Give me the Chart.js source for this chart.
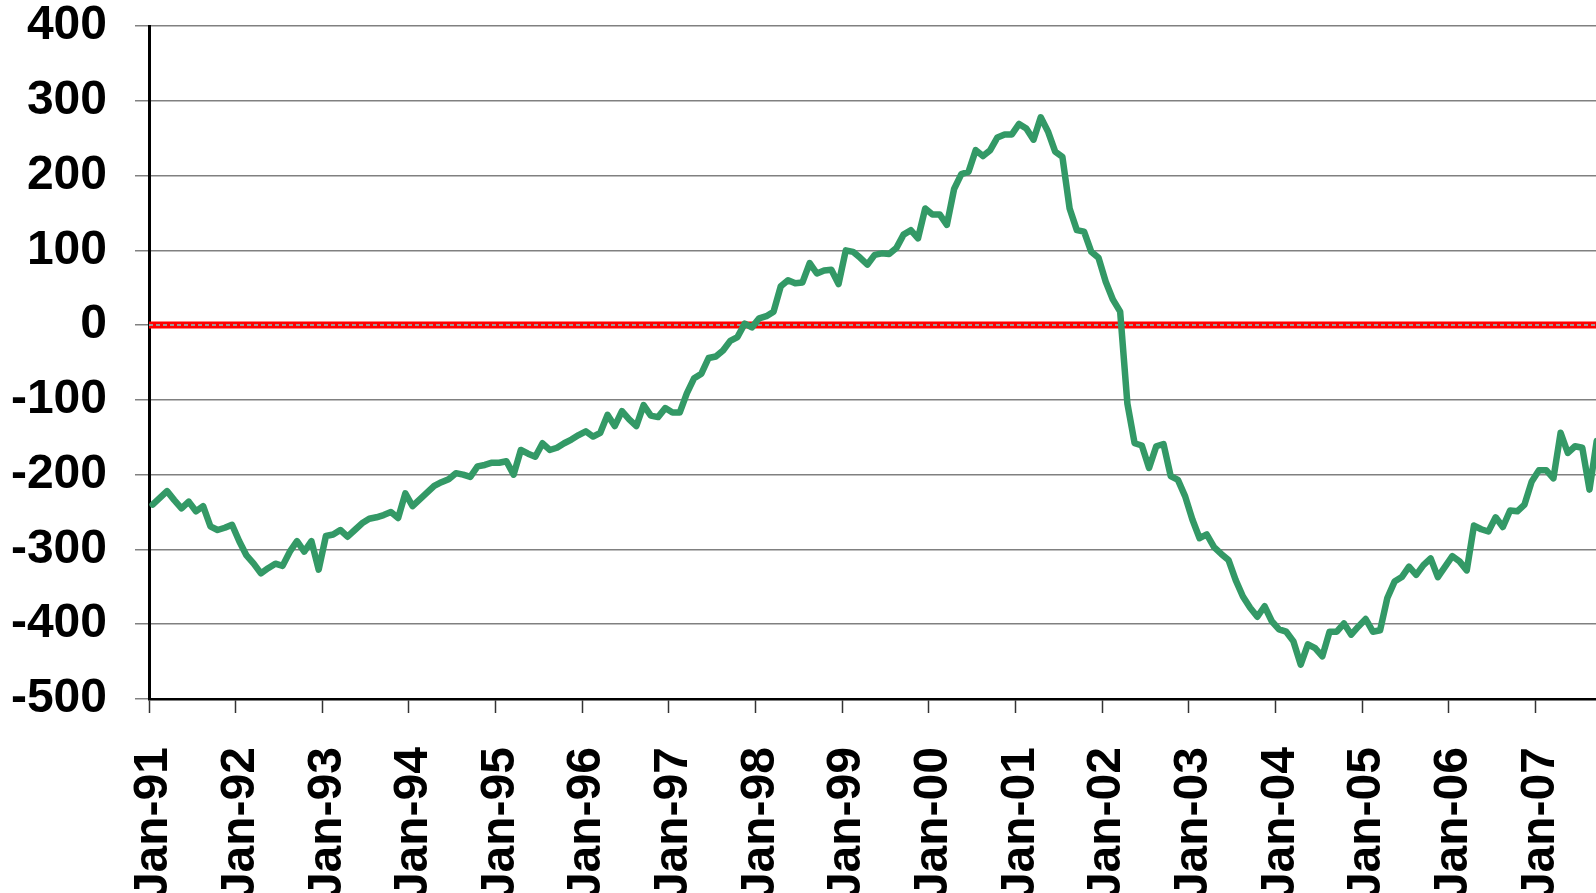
<!DOCTYPE html>
<html>
<head>
<meta charset="utf-8">
<script src="https://cdn.jsdelivr.net/npm/chart.js@4/dist/chart.umd.min.js"></script>
<style>
    html, body { margin: 0; padding: 0; background: #ffffff; overflow: hidden; }
    #chart { display: block; }
</style>
</head>
<body>
<canvas id="chart" width="1596" height="893"></canvas>
<script>
// monthly series, first value is Jan-91
const startYear = 1991;
const seriesValues = [
    -240, -231, -222, -234, -245, -236, -249, -242, -269, -274, -271, -267,
    -289, -308, -319, -332, -325, -319, -322, -303, -289, -303, -289, -327,
    -282, -280, -274, -283, -274, -265, -259, -257, -254, -250, -258, -225,
    -242, -233, -224, -215, -210, -206, -198, -200, -203, -189, -187, -184,
    -184, -182, -200, -167, -172, -176, -158, -167, -164, -158, -153, -147,
    -142, -149, -144, -120, -135, -115, -126, -135, -107, -121, -123, -111,
    -117, -117, -91, -71, -65, -44, -42, -34, -21, -16, 2, -3,
    9, 12, 18, 52, 60, 56, 57, 83, 69, 73, 74, 55,
    100, 98, 90, 81, 94, 96, 95, 103, 121, 127, 116, 156,
    148, 148, 134, 182, 202, 205, 234, 226, 234, 251, 255, 255,
    269, 263, 248, 278, 259, 232, 225, 156, 127, 125, 98, 90,
    58, 34, 18, -105, -158, -161, -191, -162, -159, -202, -207, -229,
    -260, -285, -280, -297, -306, -314, -341, -363, -378, -390, -376, -396,
    -407, -410, -423, -454, -427, -432, -443, -410, -410, -399, -414, -403,
    -393, -410, -408, -365, -343, -337, -323, -334, -321, -312, -337, -323,
    -309, -316, -328, -268, -273, -276, -257, -270, -248, -249, -240, -209,
    -194, -194, -205, -144, -171, -162, -164, -220, -155
];

const xTickLabels = [
    'Jan-91', 'Jan-92', 'Jan-93', 'Jan-94', 'Jan-95', 'Jan-96', 'Jan-97', 'Jan-98', 'Jan-99',
    'Jan-00', 'Jan-01', 'Jan-02', 'Jan-03', 'Jan-04', 'Jan-05', 'Jan-06', 'Jan-07'
];
const yTickValues = [-500, -400, -300, -200, -100, 0, 100, 200, 300, 400];
const zeroLineValue = 0;

// axis runs in months from Jan-91, the visible window ends a bit after Sep-07
const xMax = 200.4;
const midMonth = 0.5;

document.addEventListener('DOMContentLoaded', () => {
    const ctx = document.getElementById('chart').getContext('2d');

    const linePoints = seriesValues.map((v, i) => ({ x: i + midMonth, y: v }));
    const zeroPoints = [{ x: 0, y: zeroLineValue }, { x: xMax, y: zeroLineValue }];

    const labelFont = { family: "'Liberation Sans', Arial, sans-serif", size: 48, weight: 'bold', lineHeight: 1 };

    new Chart(ctx, {
        type: 'line',
        data: {
            datasets: [
                {
                    data: linePoints,
                    borderColor: '#339966',
                    borderWidth: 6.5,
                    borderCapStyle: 'round',
                    borderJoinStyle: 'round',
                    pointRadius: 0,
                    tension: 0,
                },
                {
                    // dotted centre of the zero line
                    data: zeroPoints,
                    borderColor: '#9a9a9a',
                    borderWidth: 2,
                    borderDash: [4, 3],
                    pointRadius: 0,
                },
                {
                    data: zeroPoints,
                    borderColor: '#ff0000',
                    borderWidth: 7,
                    pointRadius: 0,
                },
            ],
        },
        options: {
            responsive: false,
            animation: false,
            devicePixelRatio: 1,
            layout: { padding: { top: 26, right: 0, bottom: 0, left: 0 } },
            plugins: {
                legend: { display: false },
                tooltip: { enabled: false },
            },
            scales: {
                x: {
                    type: 'linear',
                    min: 0,
                    max: xMax,
                    afterFit: (s) => {
                        s.height = 194;
                        s.paddingLeft = 0;
                        s.paddingRight = 0;
                    },
                    border: { color: '#000000', width: 2.5 },
                    grid: {
                        drawOnChartArea: false,
                        drawTicks: true,
                        tickLength: 14,
                        tickColor: '#333333',
                        tickWidth: 1.5,
                    },
                    ticks: {
                        stepSize: 12,
                        includeBounds: false,
                        autoSkip: false,
                        minRotation: 90,
                        maxRotation: 90,
                        padding: 34,
                        labelOffset: 5,
                        color: '#000000',
                        font: labelFont,
                        callback: (value) => xTickLabels[value / 12] || '',
                    },
                },
                y: {
                    min: yTickValues[0],
                    max: yTickValues[yTickValues.length - 1],
                    afterFit: (s) => {
                        s.width = 149;
                        s.paddingTop = 0;
                        s.paddingBottom = 0;
                    },
                    afterBuildTicks: (s) => {
                        s.ticks = yTickValues.map(v => ({ value: v }));
                    },
                    border: { color: '#000000', width: 3 },
                    grid: {
                        color: '#808080',
                        lineWidth: 1.5,
                        tickLength: 14,
                    },
                    ticks: {
                        padding: 28,
                        color: '#000000',
                        font: labelFont,
                    },
                },
            },
        },
    });
});
</script>
</body>
</html>
